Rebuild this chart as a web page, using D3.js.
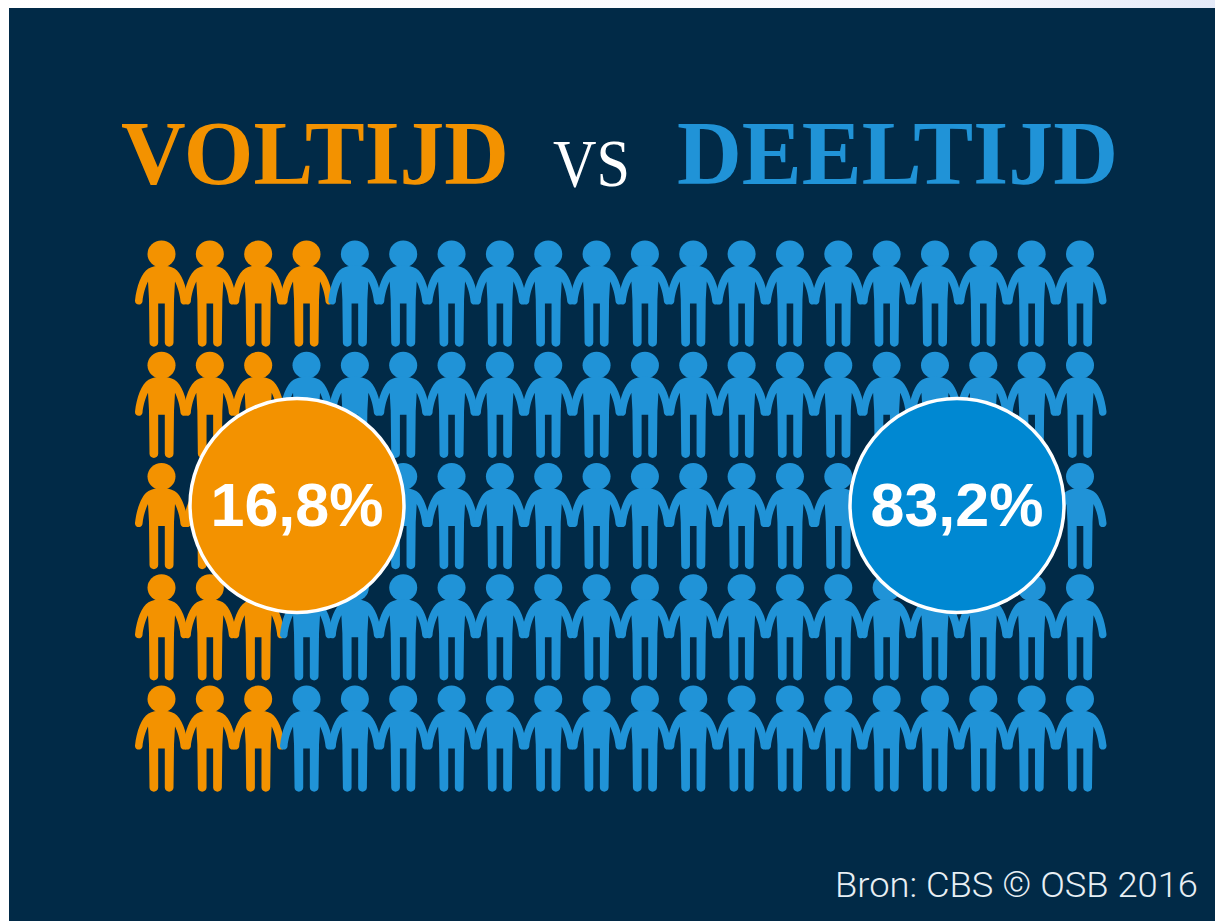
<!DOCTYPE html>
<html>
<head>
<meta charset="utf-8">
<script src="https://cdn.jsdelivr.net/npm/d3@7"></script>
<style>html,body{margin:0;padding:0;background:#fff;overflow:hidden}svg{display:block}</style>
</head>
<body>
<div id="chart"></div>
<script>
// Data
const rowIndexes = [0, 1, 2, 3, 4];
const columnIndexes = d3.range(20);
const fulltimePerRow = [4, 3, 3, 3, 3];
const shareLabels = ["16,8%", "83,2%"];
const shareValues = [16.8, 83.2];
const titleWords = ["VOLTIJD", "VS", "DEELTIJD"];
const sourceText = "Bron: CBS © OSB 2016";

const W = 1215, H = 921;
const orange = "#f39200", blue = "#2093d7", navy = "#012a47", circleBlue = "#0088d2";

const svg = d3.select("#chart").append("svg").attr("width", W).attr("height", H);
const defs = svg.append("defs");
const grad = defs.append("linearGradient").attr("id", "corner");
grad.append("stop").attr("offset", "0").attr("stop-color", "#ffffff");
grad.append("stop").attr("offset", "0.8").attr("stop-color", "#f7f8fd");
grad.append("stop").attr("offset", "1").attr("stop-color", "#e4eaf8");
svg.append("rect").attr("width", W).attr("height", 9).attr("fill", "url(#corner)");
svg.append("rect").attr("x", 9).attr("y", 8).attr("width", W - 9).attr("height", H - 8).attr("fill", navy);

// Title
const titleFont = "'Liberation Serif', serif";
const titleLayout = [
  {x: 121, w: 388, size: 90, weight: 700, fill: orange, y: 184},
  {x: 553, w: 77, size: 68, weight: 400, fill: "#ffffff", y: 186},
  {x: 677, w: 441, size: 90, weight: 700, fill: blue, y: 184}
];
svg.selectAll("text.title").data(titleWords).join("text")
  .attr("class", "title")
  .attr("x", (d, i) => titleLayout[i].x)
  .attr("y", (d, i) => titleLayout[i].y)
  .attr("textLength", (d, i) => titleLayout[i].w)
  .attr("lengthAdjust", "spacingAndGlyphs")
  .attr("font-family", titleFont)
  .attr("font-size", (d, i) => titleLayout[i].size)
  .attr("font-weight", (d, i) => titleLayout[i].weight)
  .attr("fill", (d, i) => titleLayout[i].fill)
  .text(d => d);

// Scales
const xScale = d3.scalePoint().domain(columnIndexes).range([161.5, 1080]);
const yScale = d3.scalePoint().domain(rowIndexes).range([240.5, 685.5]);

// Person glyph, origin at top of the head's centre line
const personBody = "M-13,28 C-6,24 6,24 13,28 C20,32 25,46 26.5,60 " +
  "C27,65 19.5,65.5 19,61 C18.5,54 16,46 13.5,41 L12.5,59 L12,102 " +
  "C12,107.5 3.3,107.5 3.3,102 L3.3,63 L-3.3,63 L-3.3,102 C-3.3,107.5 -12,107.5 -12,102 " +
  "L-12.5,59 L-13.5,41 C-16,46 -18.5,54 -19,61 C-19.5,65.5 -27,65 -26.5,60 C-25,46 -20,32 -13,28 Z";

const people = rowIndexes.flatMap(r => columnIndexes.map(c => ({r, c, full: c < fulltimePerRow[r]})));
const g = svg.append("g");
const person = g.selectAll("g.person").data(people).join("g")
  .attr("class", "person")
  .attr("transform", d => `translate(${xScale(d.c)},${yScale(d.r)})`)
  .attr("fill", d => d.full ? orange : blue);
person.append("ellipse").attr("cx", 0).attr("cy", 13.5).attr("rx", 14).attr("ry", 13.5);
person.append("path").attr("d", personBody);

// Share badges
const badgeX = d3.scaleOrdinal().domain(shareValues).range([297, 957]);
const badgeFill = d3.scaleOrdinal().domain(shareValues).range([orange, circleBlue]);
const badges = svg.selectAll("g.badge").data(shareValues).join("g")
  .attr("class", "badge").attr("transform", d => `translate(${badgeX(d)},505.5)`);
badges.append("circle").attr("r", 107).attr("fill", d => badgeFill(d))
  .attr("stroke", "#fff").attr("stroke-width", 3.5);
badges.append("text").attr("text-anchor", "middle").attr("y", 20)
  .attr("font-family", "'Liberation Sans', Arial, sans-serif").attr("font-weight", 700)
  .attr("font-size", 61).attr("fill", "#fff")
  .text((d, i) => shareLabels[i]);

// Source
svg.append("text").attr("x", 835).attr("y", 897)
  .attr("textLength", 363).attr("lengthAdjust", "spacingAndGlyphs")
  .attr("font-family", "Roboto, sans-serif").attr("font-weight", 300)
  .attr("font-size", 35).attr("fill", "#e8eff4").text(sourceText);
</script>
</body>
</html>
